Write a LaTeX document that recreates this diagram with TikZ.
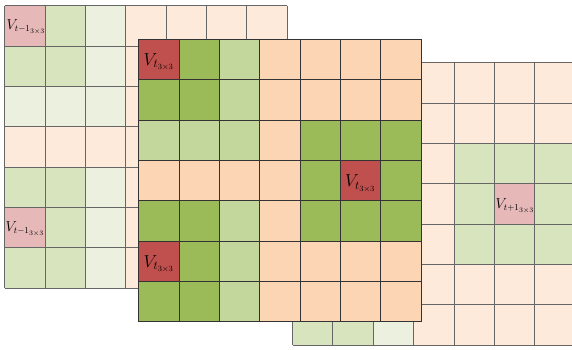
\documentclass[tikz,border=0pt]{standalone}
\definecolor{mR}{RGB}{192,80,77}
\definecolor{mG}{RGB}{155,187,89}
\definecolor{mL}{RGB}{195,214,155}
\definecolor{mP}{RGB}{252,213,181}
\definecolor{bR}{RGB}{230,185,184}
\definecolor{bG}{RGB}{215,228,189}
\definecolor{bL}{RGB}{235,241,222}
\definecolor{bP}{RGB}{253,234,218}
\tikzset{
  cellline/.style={draw=black!80, line width=0.7pt},
  backline/.style={draw=black!60, line width=0.8pt},
  vlabel/.style={anchor=west, inner sep=0pt, font=\fontsize{16.5}{16.5}\selectfont},
  blabel/.style={anchor=west, inner sep=0pt, font=\fontsize{13.5}{13.5}\selectfont},
}
\newcommand{\drawgrid}[4]{% #1 x, #2 y, #3 prefix, #4 line style
  \foreach \rowlist [count=\r from 0] in {{R,G,L,P,P,P,P},{G,G,L,P,P,P,P},{L,L,L,P,G,G,G},{P,P,P,P,G,R,G},{G,G,L,P,G,G,G},{R,G,L,P,P,P,P},{G,G,L,P,P,P,P}}{
    \foreach \c [count=\k from 0] in \rowlist {
      \fill[#3\c] ({#1+\k*40.35},{#2+\r*40.35}) rectangle ++(40.35,40.35);
    }
  }
  \foreach \i in {0,...,7}{
    \draw[#4] ({#1+\i*40.35},#2) -- ++(0,282.45);
    \draw[#4] (#1,{#2+\i*40.35}) -- ++(282.45,0);
  }
}
\begin{document}
\begin{tikzpicture}[x=1pt,y=-1pt]
\useasboundingbox (0,0) rectangle (572,349);
\clip (0,0) rectangle (572,349);
% back grid (t-1)
\drawgrid{4.7}{5.7}{b}{backline}
\node[blabel] (lb1) at (6.5,27) {$V_{t-1_{3\times3}}$};
\node[blabel] (lb2) at (5.5,229) {$V_{t-1_{3\times3}}$};
% right grid (t+1)
\drawgrid{292.5}{62.7}{b}{backline}
\node[blabel] (lr) at (495.5,206) {$V_{t+1_{3\times3}}$};
% middle grid (t)
\drawgrid{138.7}{39.3}{m}{cellline}
\node[vlabel] (lm1) at (143.5,62) {$V_{t_{3\times3}}$};
\node[vlabel] (lm2) at (345,183.5) {$V_{t_{3\times3}}$};
\node[vlabel] (lm3) at (143.5,264) {$V_{t_{3\times3}}$};
\end{tikzpicture}
\end{document}
